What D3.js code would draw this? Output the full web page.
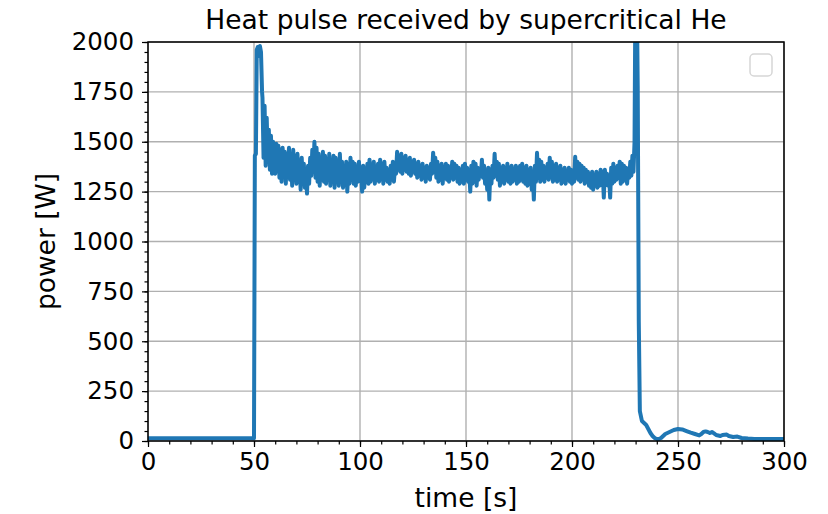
<!DOCTYPE html>
<html>
<head>
<meta charset="utf-8">
<script src="https://cdn.jsdelivr.net/npm/d3@7"></script>
<style>
  body { margin: 0; background: #fff; }
  svg { font-family: "DejaVu Sans", sans-serif; }
</style>
</head>
<body>
<svg></svg>
<script>
// pulse onset: time [s] and power [W]
const riseTimes = [0, 10, 20, 30, 40, 50, 50.4, 50.9, 51.3, 51.8, 52.3, 52.8, 53.3, 53.8];
const risePower = [14, 14, 14, 14, 14, 14, 1430, 1440, 1960, 1975, 1930, 1980, 1950, 1750];

// plateau, sampled every 0.5 s from 54 s to 229 s
const plateauStart = 54;
const plateauStep = 0.5;
const plateauPower = [
  1720, 1420, 1680, 1380, 1620, 1400, 1560, 1360, 1530, 1340, 1500, 1380, 1340, 1490, 1360, 1480, 1320, 1460, 1300, 1470,
  1330, 1450, 1290, 1430, 1350, 1470, 1310, 1420, 1280, 1460, 1330, 1400, 1290, 1440, 1310, 1380, 1260, 1420, 1300, 1390,
  1270, 1350, 1240, 1380, 1290, 1420, 1330, 1460, 1350, 1500, 1320, 1470, 1300, 1440, 1280, 1420, 1310, 1450, 1300, 1430,
  1290, 1410, 1320, 1440, 1280, 1400, 1300, 1430, 1270, 1420, 1310, 1390, 1280, 1440, 1300, 1400, 1270, 1380, 1290, 1400,
  1250, 1360, 1290, 1420, 1310, 1400, 1290, 1390, 1280, 1370, 1300, 1400, 1310, 1360, 1250, 1380, 1270, 1350, 1300, 1390,
  1290, 1410, 1300, 1380, 1320, 1400, 1290, 1370, 1310, 1390, 1300, 1410, 1320, 1380, 1290, 1400, 1310, 1370, 1300, 1360,
  1290, 1380, 1310, 1400, 1300, 1370, 1340, 1450, 1360, 1430, 1350, 1440, 1340, 1420, 1360, 1430, 1350, 1410, 1340, 1420,
  1330, 1400, 1350, 1410, 1340, 1390, 1320, 1400, 1330, 1380, 1310, 1390, 1320, 1370, 1300, 1380, 1320, 1360, 1310, 1390,
  1340, 1445, 1350, 1420, 1320, 1400, 1300, 1380, 1310, 1390, 1290, 1370, 1320, 1390, 1310, 1380, 1300, 1370, 1320, 1400,
  1310, 1390, 1320, 1380, 1300, 1370, 1290, 1360, 1300, 1380, 1290, 1390, 1310, 1370, 1300, 1360, 1250, 1380, 1290, 1400,
  1300, 1390, 1280, 1370, 1310, 1360, 1330, 1410, 1320, 1380, 1290, 1350, 1260, 1370, 1210, 1360, 1290, 1380, 1320, 1440,
  1330, 1400, 1310, 1390, 1280, 1370, 1300, 1380, 1290, 1360, 1310, 1390, 1300, 1370, 1290, 1380, 1300, 1360, 1310, 1380,
  1290, 1370, 1300, 1380, 1310, 1390, 1300, 1370, 1290, 1380, 1280, 1360, 1290, 1370, 1260, 1340, 1210, 1380, 1300, 1445,
  1320, 1410, 1300, 1400, 1310, 1380, 1300, 1370, 1320, 1390, 1310, 1420, 1330, 1400, 1300, 1380, 1310, 1390, 1300, 1370,
  1310, 1380, 1290, 1360, 1300, 1370, 1290, 1350, 1310, 1370, 1300, 1360, 1290, 1350, 1300, 1425, 1320, 1400, 1310, 1390,
  1300, 1380, 1320, 1370, 1290, 1360, 1300, 1350, 1280, 1340, 1270, 1350, 1260, 1330, 1280, 1350, 1270, 1340, 1280, 1360,
  1290, 1350, 1220, 1360, 1300, 1340, 1280, 1330, 1220, 1370, 1290, 1390, 1300, 1360, 1310, 1380, 1320, 1400, 1290, 1390,
  1300, 1380, 1310, 1370, 1290, 1360, 1320, 1400, 1330, 1430, 1350
];

// shut-off and decay
const tailTimes = [
  229.5, 230, 230.5, 231, 231.5, 232, 233, 234, 235, 236, 237, 238, 239, 240, 241, 242, 243, 244,
  246, 248, 250, 252, 254, 256, 258, 260, 261, 262, 263, 264, 265, 266, 267, 268, 270, 271, 273,
  274, 276, 278, 280, 283, 286, 290, 300
];
const tailPower = [
  1500, 2400, 2300, 1780, 600, 150, 100, 90, 80, 60, 40, 25, 15, 10, 10, 15, 25, 35,
  45, 55, 60, 58, 50, 42, 35, 28, 35, 45, 48, 45, 40, 45, 38, 30, 25, 30, 32,
  25, 20, 22, 15, 12, 10, 10, 10
];

const xTicks = [0, 50, 100, 150, 200, 250, 300];
const yTicks = [0, 250, 500, 750, 1000, 1250, 1500, 1750, 2000];

const times = riseTimes
    .concat(plateauPower.map((d, i) => plateauStart + i * plateauStep))
    .concat(tailTimes);
const power = risePower.concat(plateauPower, tailPower);

const width = 828, height = 514;
const plotLeft = 148, plotRight = 784, plotTop = 42, plotBottom = 441;

const svg = d3.select("svg")
    .attr("width", width)
    .attr("height", height);

const x = d3.scaleLinear().domain([0, 300]).range([plotLeft, plotRight]);
const y = d3.scaleLinear().domain([0, 2000]).range([plotBottom, plotTop]);

// grid
svg.append("g").selectAll("line")
    .data(xTicks)
  .enter().append("line")
    .attr("x1", d => x(d)).attr("x2", d => x(d))
    .attr("y1", plotTop).attr("y2", plotBottom)
    .attr("stroke", "#b0b0b0").attr("stroke-width", 1.4);

svg.append("g").selectAll("line")
    .data(yTicks)
  .enter().append("line")
    .attr("x1", plotLeft).attr("x2", plotRight)
    .attr("y1", d => y(d)).attr("y2", d => y(d))
    .attr("stroke", "#b0b0b0").attr("stroke-width", 1.4);

// data line
svg.append("clipPath").attr("id", "clip")
  .append("rect")
    .attr("x", plotLeft).attr("y", plotTop)
    .attr("width", plotRight - plotLeft).attr("height", plotBottom - plotTop);

const line = d3.line()
    .x((d, i) => x(times[i]))
    .y(d => y(d));

svg.append("path")
    .datum(power)
    .attr("clip-path", "url(#clip)")
    .attr("fill", "none")
    .attr("stroke", "#1f77b4")
    .attr("stroke-width", 4)
    .attr("stroke-linejoin", "round")
    .attr("d", line);

// axes
const fmt = d3.format("d");

svg.append("g")
    .attr("transform", "translate(0," + plotBottom + ")")
    .call(d3.axisBottom(x).tickValues(xTicks).tickFormat(fmt).tickSize(6).tickSizeOuter(0).tickPadding(6));

svg.append("g")
    .attr("transform", "translate(0," + plotBottom + ")")
    .call(d3.axisBottom(x).tickValues(d3.range(0, 301, 10)).tickSize(3.5).tickSizeOuter(0).tickFormat(""));

svg.append("g")
    .attr("transform", "translate(" + plotLeft + ",0)")
    .call(d3.axisLeft(y).tickValues(yTicks).tickFormat(fmt).tickSize(6).tickSizeOuter(0).tickPadding(8));

svg.append("g")
    .attr("transform", "translate(" + plotLeft + ",0)")
    .call(d3.axisLeft(y).tickValues(d3.range(0, 2001, 50)).tickSize(3.5).tickSizeOuter(0).tickFormat(""));

svg.selectAll(".domain").remove();
svg.selectAll(".tick line").attr("stroke", "#000").attr("stroke-width", 1.2);
svg.selectAll(".tick text")
    .attr("fill", "#000")
    .style("font-size", "24.5px")
    .style("font-family", "DejaVu Sans");

// frame
svg.append("rect")
    .attr("x", plotLeft).attr("y", plotTop)
    .attr("width", plotRight - plotLeft).attr("height", plotBottom - plotTop)
    .attr("fill", "none").attr("stroke", "#000").attr("stroke-width", 1.5);

// empty legend
svg.append("rect")
    .attr("x", 750).attr("y", 54)
    .attr("width", 22).attr("height", 22)
    .attr("rx", 4)
    .attr("fill", "#fff")
    .attr("stroke", "#d6d6d6").attr("stroke-width", 1.5);

// labels
svg.append("text")
    .attr("x", (plotLeft + plotRight) / 2).attr("y", 29)
    .attr("text-anchor", "middle")
    .style("font-size", "26.5px")
    .text("Heat pulse received by supercritical He");

svg.append("text")
    .attr("x", (plotLeft + plotRight) / 2).attr("y", 507)
    .attr("text-anchor", "middle")
    .style("font-size", "26.5px")
    .text("time [s]");

svg.append("text")
    .attr("transform", "translate(55," + ((plotTop + plotBottom) / 2) + ") rotate(-90)")
    .attr("text-anchor", "middle")
    .style("font-size", "26.5px")
    .text("power [W]");
</script>
</body>
</html>
